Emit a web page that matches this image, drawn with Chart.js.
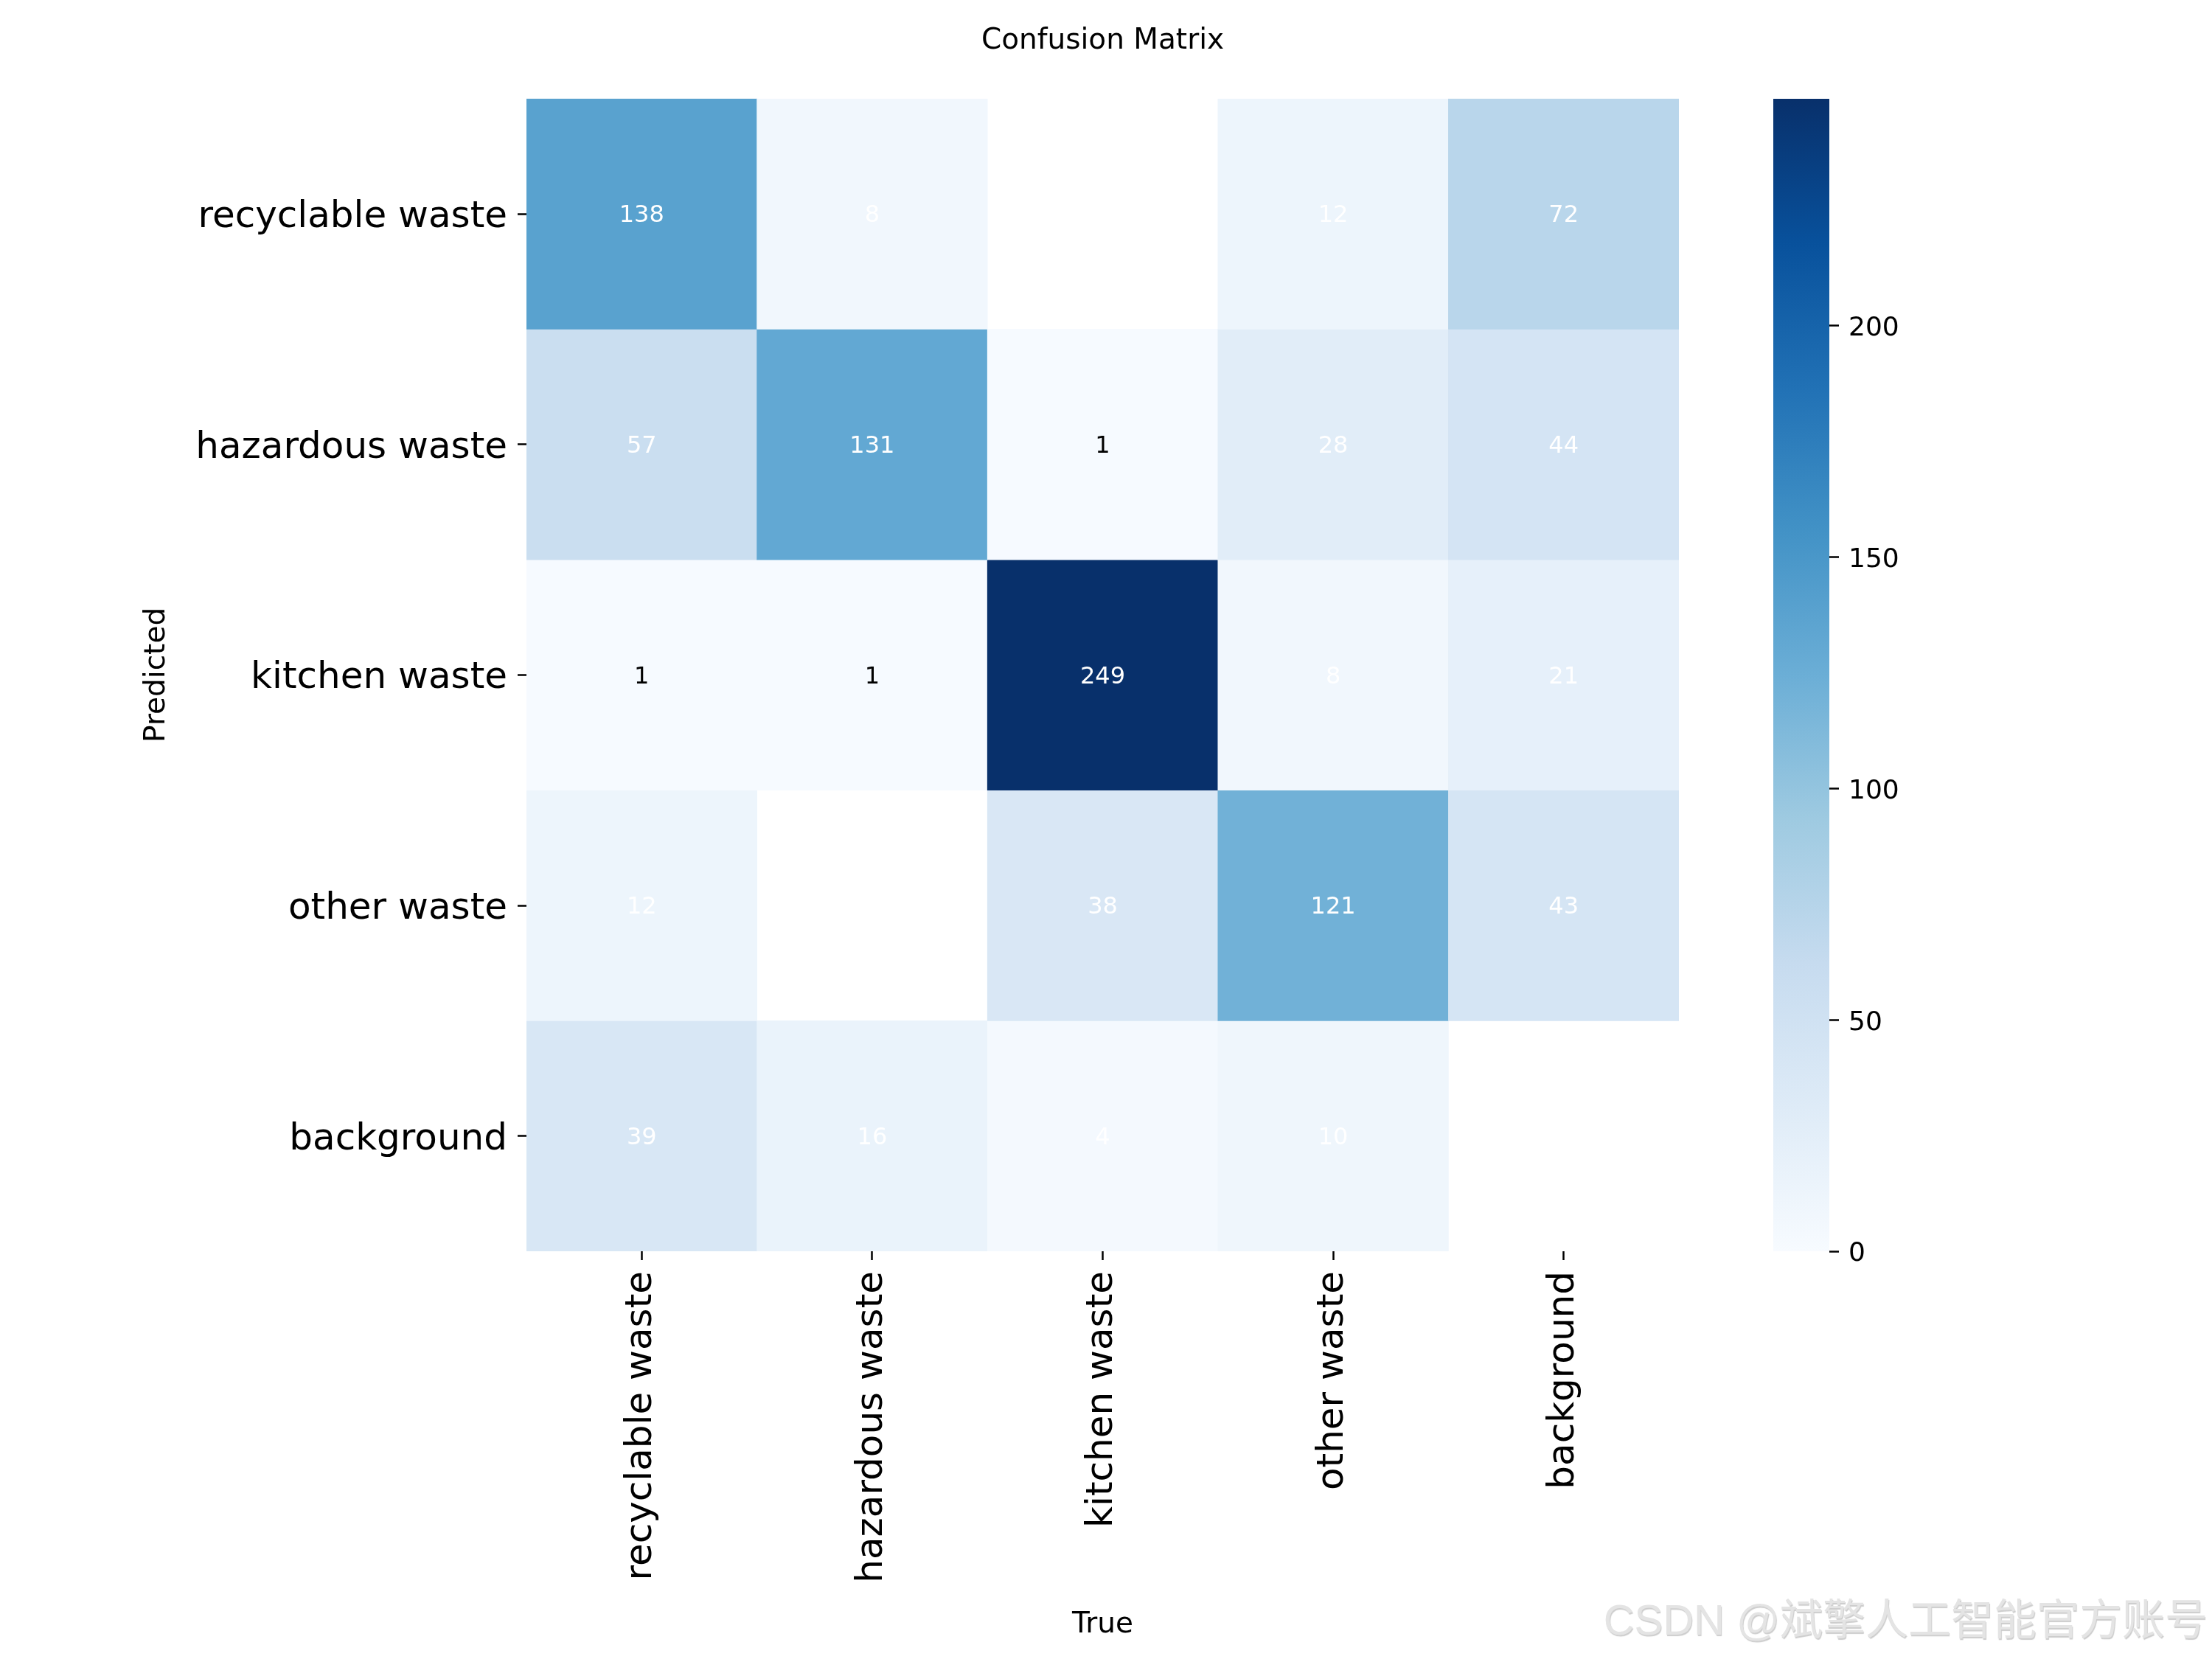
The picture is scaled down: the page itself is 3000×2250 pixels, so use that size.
<!DOCTYPE html>
<html>
<head>
<meta charset="utf-8">
<title>Confusion Matrix</title>
<script src="https://cdn.jsdelivr.net/npm/chart.js@4.4.1/dist/chart.umd.min.js"></script>
<style>
  html,body{margin:0;padding:0;background:#fff;}
  #wrap{position:relative;width:3000px;height:2250px;overflow:hidden;background:#fff;}
  #main{position:absolute;left:0;top:0;width:3000px;height:2250px;}
  #cbar{position:absolute;left:2405px;top:0;width:595px;height:2250px;}
  .wm{position:absolute;right:6px;top:2168px;font:58px/1 "Liberation Sans","Noto Sans CJK SC",sans-serif;
      color:#e4e4e4;text-shadow:1px 2px 1px #cdcdcd;white-space:nowrap;}
</style>
</head>
<body>
<div id="wrap">
  <div id="main"><canvas id="cm"></canvas></div>
  <div id="cbar"><canvas id="cb"></canvas></div>
  <div class="wm">CSDN @斌擎人工智能官方账号</div>
</div>
<script>
/* --- DATA --- */
// columns = True class, rows = Predicted class
const trueLabels = ['recyclable waste','hazardous waste','kitchen waste','other waste','background'];
const predLabels = ['recyclable waste','hazardous waste','kitchen waste','other waste','background'];

const rowRecyclable = [138,   8,   0,  12,  72];
const rowHazardous  = [ 57, 131,   1,  28,  44];
const rowKitchen    = [  1,   1, 249,   8,  21];
const rowOther      = [ 12,   0,  38, 121,  43];
const rowBackground = [ 39,  16,   4,  10,   0];
const counts = [rowRecyclable, rowHazardous, rowKitchen, rowOther, rowBackground];

const cbarMin = 0;
const cbarMax = 249;
const cbarTicks = [0, 50, 100, 150, 200];

/* --- STYLE --- */
const FONT = '"DejaVu Sans", sans-serif';
const BLUES = ['#f7fbff','#deebf7','#c6dbef','#9ecae1','#6baed6','#4292c6','#2171b5','#08519c','#08306b'];

function hex2rgb(h){ return [1,3,5].map(i=>parseInt(h.substr(i,2),16)); }
function blues(t){
  t = Math.max(0, Math.min(1, t));
  const p = t * (BLUES.length - 1);
  const i = Math.min(Math.floor(p), BLUES.length - 2);
  const f = p - i;
  const a = hex2rgb(BLUES[i]), b = hex2rgb(BLUES[i+1]);
  const c = a.map((v,k)=>Math.round(v + (b[k]-v)*f));
  return `rgb(${c[0]},${c[1]},${c[2]})`;
}

/* --- CELL NUMBERS PLUGIN --- */
const cellText = {
  id:'cellText',
  afterDatasetsDraw(chart){
    const {ctx, scales:{x, y}} = chart;
    ctx.save();
    ctx.font = '32px ' + FONT;
    ctx.textAlign = 'center';
    ctx.textBaseline = 'middle';
    counts.forEach((row, r) => row.forEach((v, c) => {
      if (!v) return;                      // empty cells stay blank
      ctx.fillStyle = v < 2 ? '#000' : '#fff';  // as in the source figure
      ctx.fillText(String(v), x.getPixelForValue(c), y.getPixelForValue(r + 0.5) + 3);
    }));
    ctx.restore();
  }
};

const tickGrid = {display:true, drawOnChartArea:false, drawTicks:true, offset:false,
                  tickLength:12, tickWidth:2.5, tickColor:'#000'};

/* --- HEATMAP (floating bars, one dataset per predicted row) --- */
new Chart(document.getElementById('cm'), {
  type:'bar',
  data:{
    labels: trueLabels,
    datasets: counts.map((row, r) => ({
      label: predLabels[r],
      data: row.map(() => [r, r + 1]),
      backgroundColor: row.map(v => v > 0 ? blues((v - cbarMin) / (cbarMax - cbarMin)) : 'rgba(255,255,255,0)'),
      borderWidth:0,
      barPercentage:1,
      categoryPercentage:1,
      grouped:false
    }))
  },
  options:{
    responsive:true, maintainAspectRatio:false, animation:false, events:[],
    layout:{padding:{left:0, right:723, top:0, bottom:0}},
    plugins:{
      legend:{display:false},
      tooltip:{enabled:false},
      title:{display:true, text:'Confusion Matrix', color:'#000', fullSize:false,
             font:{family:FONT, size:39, weight:'normal'}, padding:{top:32, bottom:55}}
    },
    scales:{
      x:{
        type:'category', offset:true,
        grid:tickGrid, border:{display:false},
        ticks:{font:{family:FONT, size:50}, color:'#000', minRotation:90, maxRotation:90, autoSkip:false, padding:15},
        title:{display:true, text:'True', color:'#000', font:{family:FONT, size:39}, padding:{top:0, bottom:23}},
        afterFit:s=>{ s.height = 553; }
      },
      y:{
        type:'linear', min:0, max:predLabels.length, reverse:true,
        grid:tickGrid, border:{display:false},
        afterBuildTicks:s=>{ s.ticks = predLabels.map((_, i) => ({value:i + 0.5})); },
        ticks:{font:{family:FONT, size:50}, color:'#000', padding:14, autoSkip:false, labelOffset:5,
               callback:(v, i)=>predLabels[i]},
        title:{display:true, text:'Predicted', color:'#000', font:{family:FONT, size:39}, padding:{top:189, bottom:0}},
        afterFit:s=>{ s.width = 714; }
      }
    }
  },
  plugins:[cellText]
});

/* --- COLORBAR --- */
new Chart(document.getElementById('cb'), {
  type:'bar',
  data:{
    labels:[''],
    datasets:[{
      data:[[cbarMin, cbarMax]],
      backgroundColor(c){
        const a = c.chart.chartArea;
        if (!a) return BLUES[4];
        const g = c.chart.ctx.createLinearGradient(0, a.bottom, 0, a.top);
        BLUES.forEach((col, i) => g.addColorStop(i / (BLUES.length - 1), col));
        return g;
      },
      borderWidth:0, barPercentage:1, categoryPercentage:1
    }]
  },
  options:{
    responsive:true, maintainAspectRatio:false, animation:false, events:[],
    layout:{padding:{left:0, right:0, top:134, bottom:553}},
    plugins:{legend:{display:false}, tooltip:{enabled:false}},
    scales:{
      x:{display:false},
      y:{
        position:'right', min:cbarMin, max:cbarMax,
        grid:{...tickGrid, tickLength:13}, border:{display:false},
        afterBuildTicks:s=>{ s.ticks = cbarTicks.map(v => ({value:v})); },
        ticks:{font:{family:FONT, size:36}, color:'#000', padding:13, autoSkip:false, labelOffset:4},
        afterFit:s=>{ s.width = 519; }
      }
    }
  }
});
</script>
</body>
</html>
